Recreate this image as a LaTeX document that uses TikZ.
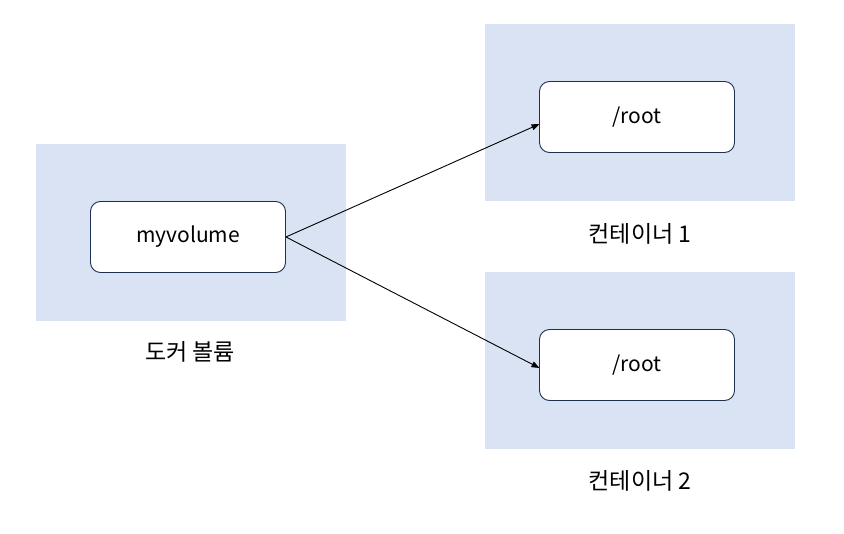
\documentclass[tikz,border=0pt]{standalone}
\usepackage{fontspec}
\setmainfont{Noto Sans CJK KR}
\usetikzlibrary{arrows.meta}
\definecolor{bgblue}{HTML}{DAE3F3}
\definecolor{boxline}{HTML}{1F2F4F}
\tikzset{
  panel/.style={fill=bgblue, draw=none},
  itembox/.style={draw=boxline, fill=white, rounded corners=10pt, line width=0.9pt, minimum width=195pt, minimum height=71pt, font=\fontsize{21}{24}\selectfont},
  caption/.style={font=\fontsize{23}{26}\selectfont},
  link/.style={draw=black, line width=0.9pt, -{Triangle[length=8pt,width=6pt]}}
}
\begin{document}
\begin{tikzpicture}[x=1pt,y=-1pt]
\useasboundingbox (0,0) rectangle (844,534);
\fill[white] (0,0) rectangle (844,534);
\fill[panel] (36,144) rectangle (346,321);
\fill[panel] (485,24) rectangle (795,201);
\fill[panel] (485,272) rectangle (795,449);
\node[itembox] (vol) at (188,237) {myvolume};
\node[itembox] (r1) at (637,117) {/root};
\node[itembox] (r2) at (637,365) {/root};
\node[caption] (c0) at (190,352) {도커 볼륨};
\node[caption] (c1) at (640,234) {컨테이너 1};
\node[caption] (c2) at (640,481) {컨테이너 2};
\coordinate (e1) at (539.5,124);
\coordinate (e2) at (539.5,368);
\draw[link] (vol.east) -- (e1);
\draw[link] (vol.east) -- (e2);
\end{tikzpicture}
\end{document}
